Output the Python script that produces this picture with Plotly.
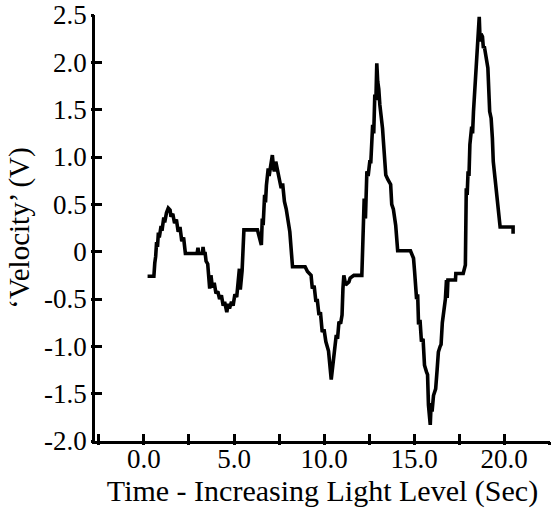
import plotly.graph_objects as go

# Time (s) and 'Velocity' (V) (rows of 10)
time = [
    0.20, 0.55, 0.60, 0.65, 0.70, 0.75, 0.80, 0.85, 0.95, 1.00,
    1.10, 1.15, 1.25, 1.35, 1.45, 1.50, 1.60, 1.70, 1.80, 1.90,
    2.00, 2.10, 2.20, 2.25, 2.30, 2.95, 3.00, 3.05, 3.25, 3.28,
    3.33, 3.40, 3.45, 3.54, 3.60, 3.65, 3.72, 3.80, 3.90, 4.00,
    4.10, 4.20, 4.30, 4.40, 4.48, 4.55, 4.60, 4.68, 4.75, 4.86,
    4.95, 5.05, 5.15, 5.30, 5.35, 5.45, 5.55, 6.30, 6.45, 6.52,
    6.57, 6.62, 6.70, 6.75, 6.80, 6.90, 6.95, 7.07, 7.13, 7.20,
    7.24, 7.32, 7.40, 7.50, 7.62, 7.70, 7.80, 7.90, 8.00, 8.10,
    8.25, 8.95, 9.08, 9.28, 9.35, 9.45, 9.55, 9.62, 9.72, 9.80,
    9.90, 10.00, 10.10, 10.25, 10.40, 10.48, 10.55, 10.62, 10.68, 10.75,
    10.83, 10.92, 11.00, 11.05, 11.10, 11.20, 11.38, 11.45, 11.66, 12.10,
    12.15, 12.20, 12.23, 12.30, 12.38, 12.45, 12.54, 12.60, 12.65, 12.70,
    12.76, 12.82, 12.88, 12.93, 12.98, 13.04, 13.10, 13.20, 13.25, 13.30,
    13.37, 13.43, 13.55, 13.70, 13.76, 13.85, 13.98, 14.09, 14.80, 14.97,
    15.03, 15.14, 15.20, 15.25, 15.33, 15.41, 15.50, 15.58, 15.69, 15.75,
    15.80, 15.90, 15.95, 16.00, 16.08, 16.20, 16.28, 16.35, 16.45, 16.50,
    16.57, 16.63, 16.74, 16.80, 16.84, 16.88, 17.30, 17.32, 17.73, 17.85,
    17.90, 17.95, 18.00, 18.05, 18.10, 18.20, 18.25, 18.30, 18.40, 18.45,
    18.56, 18.62, 18.67, 18.72, 18.80, 18.85, 18.90, 19.00, 19.10, 19.20,
    19.28, 19.35, 19.40, 19.50, 19.60, 19.67, 19.78, 20.50, 20.50,
]
velocity = [
    -0.26, -0.26, -0.12, -0.05, 0.10, 0.05, 0.20, 0.15, 0.27, 0.22,
    0.36, 0.31, 0.41, 0.46, 0.44, 0.37, 0.40, 0.30, 0.34, 0.21,
    0.26, 0.11, 0.15, 0.00, -0.02, -0.02, 0.04, -0.02, -0.02, 0.05,
    -0.02, -0.02, -0.10, -0.13, -0.30, -0.39, -0.25, -0.38, -0.33, -0.44,
    -0.42, -0.50, -0.46, -0.57, -0.53, -0.60, -0.64, -0.55, -0.60, -0.53,
    -0.57, -0.45, -0.48, -0.18, -0.40, -0.20, 0.23, 0.23, 0.13, 0.07,
    0.35, 0.28, 0.60, 0.52, 0.70, 0.88, 0.80, 0.95, 1.02, 0.88,
    0.85, 0.95, 0.87, 0.82, 0.67, 0.72, 0.53, 0.45, 0.35, 0.21,
    -0.16, -0.16, -0.21, -0.25, -0.39, -0.36, -0.53, -0.50, -0.67, -0.64,
    -0.85, -0.82, -0.95, -1.05, -1.35, -1.20, -1.09, -1.02, -0.88, -0.92,
    -0.74, -0.76, -0.67, -0.39, -0.25, -0.35, -0.32, -0.28, -0.25, -0.25,
    0.05, 0.21, 0.56, 0.35, 0.85, 0.80, 0.95, 0.95, 1.20, 1.34,
    1.25, 1.66, 1.60, 1.99, 1.80, 1.72, 1.55, 1.41, 1.30, 1.16,
    1.00, 0.81, 0.76, 0.71, 0.50, 0.45, 0.28, 0.01, 0.01, -0.07,
    -0.21, -0.50, -0.45, -0.77, -0.72, -0.95, -0.92, -1.20, -1.27, -1.30,
    -1.62, -1.83, -1.60, -1.69, -1.52, -1.45, -1.25, -1.06, -1.00, -0.98,
    -0.75, -0.67, -0.50, -0.30, -0.49, -0.30, -0.30, -0.23, -0.23, -0.14,
    0.67, 0.60, 0.85, 0.80, 1.13, 1.32, 1.25, 1.48, 1.80, 1.94,
    2.43, 2.48, 2.22, 2.30, 2.27, 2.15, 2.17, 2.06, 1.94, 1.48,
    1.41, 1.20, 0.95, 0.77, 0.58, 0.53, 0.26, 0.26, 0.19,
]
assert len(time) == len(velocity)

x_ticks = [0, 5, 10, 15, 20]
x_ticktext = ["0.0", "5.0", "10.0", "15.0", "20.0"]
y_ticks = [-2.0, -1.5, -1.0, -0.5, 0, 0.5, 1.0, 1.5, 2.0, 2.5]
y_ticktext = ["-2.0", "-1.5", "-1.0", "-0.5", "0", "0.5", "1.0", "1.5", "2.0", "2.5"]

x_title = "Time - Increasing Light Level (Sec)"
y_title = "\u2018Velocity\u2019 (V)"

FONT = "Liberation Serif"
X_RANGE = [-2.72, 22.55]
Y_RANGE = [-2.0, 2.5]

fig = go.Figure()
fig.add_trace(go.Scatter(
    x=time, y=velocity, mode="lines",
    line=dict(color="black", width=3.6),
    hoverinfo="skip", showlegend=False,
))
# overlay axes only to draw the short outside part of the crossing ticks
fig.add_trace(go.Scatter(
    x=time, y=velocity, mode="lines", xaxis="x2", yaxis="y2",
    line=dict(color="rgba(0,0,0,0)", width=0),
    hoverinfo="skip", showlegend=False,
))

fig.update_layout(
    width=555, height=511,
    margin=dict(l=95, r=5, t=15, b=70),
    paper_bgcolor="white", plot_bgcolor="white",
    font=dict(family=FONT, color="black", size=27),
    xaxis=dict(
        range=X_RANGE, showgrid=False, zeroline=False,
        showline=True, linecolor="black", linewidth=2.5,
        ticks="inside", ticklen=7, tickwidth=2.5, tickcolor="black",
        tickvals=x_ticks, ticktext=x_ticktext,
        tickfont=dict(family=FONT, size=27),
        ticklabelstandoff=-8,
        minor=dict(dtick=2.5, tick0=0, ticks="inside", ticklen=7, tickwidth=2.5, tickcolor="black", showgrid=False),
        title=dict(text=x_title, font=dict(family=FONT, size=30), standoff=2),
        automargin=False,
    ),
    yaxis=dict(
        range=Y_RANGE, showgrid=False, zeroline=False,
        showline=True, linecolor="black", linewidth=2.5,
        ticks="inside", ticklen=7, tickwidth=2.5, tickcolor="black",
        tickvals=y_ticks, ticktext=y_ticktext,
        tickfont=dict(family=FONT, size=27),
        title=dict(text=y_title, font=dict(family=FONT, size=29), standoff=6),
        automargin=False,
    ),
    xaxis2=dict(
        overlaying="x", matches="x", range=X_RANGE, anchor="y2", side="bottom",
        showgrid=False, zeroline=False, showline=False, showticklabels=False,
        ticks="outside", ticklen=3, tickwidth=2.5, tickcolor="black",
        tickvals=x_ticks,
        minor=dict(dtick=2.5, tick0=0, ticks="outside", ticklen=3, tickwidth=2.5, tickcolor="black", showgrid=False),
    ),
    yaxis2=dict(
        overlaying="y", range=Y_RANGE, anchor="x2", side="left",
        showgrid=False, zeroline=False, showline=False, showticklabels=False,
        ticks="outside", ticklen=3, tickwidth=2.5, tickcolor="black",
        tickvals=y_ticks,
    ),
)

fig.write_html("out.html")
